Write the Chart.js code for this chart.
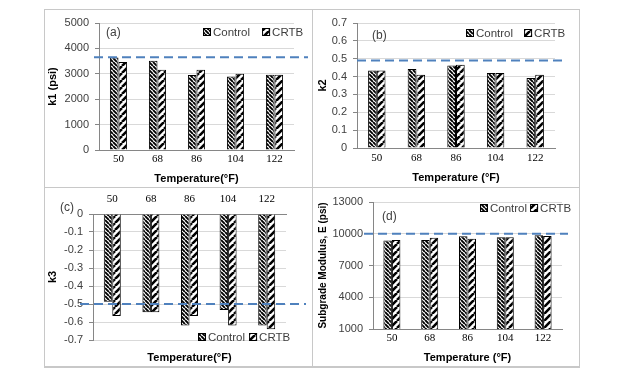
<!DOCTYPE html>
<html>
<head>
<meta charset="utf-8">
<script src="https://cdn.jsdelivr.net/npm/chart.js@4.4.1/dist/chart.umd.min.js"></script>
<style>
  html, body { margin: 0; padding: 0; background: #fff; }
  body { width: 624px; height: 372px; position: relative; overflow: hidden; }
  .line { position: absolute; background: #c8c8c8; }
  canvas { position: absolute; }
</style>
</head>
<body>
<div class="line" style="left:44px;top:9px;width:536px;height:1px"></div>
<div class="line" style="left:44px;top:187px;width:536px;height:1px"></div>
<div class="line" style="left:44px;top:366px;width:536px;height:2px"></div>
<div class="line" style="left:44px;top:9px;width:1px;height:359px"></div>
<div class="line" style="left:312px;top:9px;width:1px;height:359px"></div>
<div class="line" style="left:579px;top:9px;width:1px;height:359px"></div>

<canvas id="chartA" width="266" height="176" style="left:45px;top:10px"></canvas>
<canvas id="chartB" width="265" height="176" style="left:313px;top:10px"></canvas>
<canvas id="chartC" width="266" height="178" style="left:45px;top:188px"></canvas>
<canvas id="chartD" width="265" height="178" style="left:313px;top:188px"></canvas>

<script>
const temps = ['50', '68', '86', '104', '122'];

const k1Control = [3640, 3510, 2950, 2890, 2960];
const k1Crtb = [3460, 3155, 3155, 3000, 2960];
const k1Ref = 3650;

const k2Control = [0.434, 0.442, 0.462, 0.42, 0.392];
const k2Crtb = [0.434, 0.41, 0.466, 0.42, 0.41];
const k2Ref = 0.49;

const k3Control = [-0.487, -0.546, -0.62, -0.533, -0.62];
const k3Crtb = [-0.566, -0.546, -0.566, -0.62, -0.64];
const k3Ref = -0.5;

const eControl = [9370, 9400, 9770, 9680, 9860];
const eCrtb = [9400, 9620, 9530, 9680, 9780];
const eRef = 10000;

const SANS = '"Liberation Sans", Arial, sans-serif';
const SERIF = '"Liberation Serif", "Times New Roman", serif';

// diagonal hatch tiles: 'back' = \\\\ , 'fwd' = ////
function hatch(size, lineW, dir) {
  const c = document.createElement('canvas');
  c.width = c.height = size;
  const g = c.getContext('2d');
  g.fillStyle = '#fff';
  g.fillRect(0, 0, size, size);
  g.strokeStyle = '#000';
  g.lineWidth = lineW;
  g.beginPath();
  for (let k = -1; k <= 1; k++) {
    if (dir === 'back') {
      g.moveTo(k * size, 0); g.lineTo(k * size + size, size);
    } else {
      g.moveTo(k * size, size); g.lineTo(k * size + size, 0);
    }
  }
  g.stroke();
  return g.createPattern(c, 'repeat');
}
const controlFill = hatch(4, 1.9, 'back');
const crtbFill = hatch(7, 2.6, 'fwd');

// reference line, panel letter and in-plot legend
const panelDecor = {
  id: 'panelDecor',
  afterDatasetsDraw(chart, args, opts) {
    const { ctx, chartArea } = chart;
    const py = chart.scales.y.getPixelForValue(opts.ref);
    ctx.save();
    ctx.strokeStyle = '#4f81bd';
    ctx.lineWidth = 2;
    ctx.setLineDash([9, 5]);
    ctx.beginPath();
    ctx.moveTo(chartArea.left + opts.refFrom, py);
    ctx.lineTo(chartArea.right + opts.refTo, py);
    ctx.stroke();
    ctx.restore();
  },
  afterDraw(chart, args, opts) {
    const ctx = chart.ctx;
    ctx.save();
    ctx.textBaseline = 'middle';
    ctx.fillStyle = '#404040';
    ctx.font = '12px ' + SANS;
    ctx.fillText(opts.letter, opts.letterX, opts.letterY);

    ctx.font = '11.5px ' + SANS;
    let x = opts.legendX;
    const y = opts.legendY;
    chart.data.datasets.forEach(ds => {
      ctx.fillStyle = ds.backgroundColor;
      ctx.fillRect(x, y - 4, 8, 8);
      ctx.strokeStyle = '#000';
      ctx.lineWidth = 1;
      ctx.strokeRect(x + 0.5, y - 3.5, 7, 7);
      ctx.fillStyle = '#404040';
      ctx.fillText(ds.label, x + 10, y + 0.5);
      x += 10 + ctx.measureText(ds.label).width + opts.legendGap;
    });
    ctx.restore();
  }
};

function buildChart(id, o) {
  const xTitle = {
    display: true, text: o.xTitle, color: '#000',
    font: { family: SANS, size: 11, weight: 'bold' },
    padding: { top: 0, bottom: o.xTitlePad }
  };
  const scales = {
    y: {
      min: o.min, max: o.max,
      afterFit(s) { s.width = o.yWidth; },
      ticks: {
        stepSize: o.step, padding: 6, color: '#404040',
        font: { family: SANS, size: 11 },
        callback: v => String(Math.round(v * 1000) / 1000)
      },
      grid: { color: '#d9d9d9', tickColor: '#868686', tickLength: 4 },
      border: { color: '#868686' },
      title: {
        display: true, text: o.yTitle, color: '#000',
        font: { family: SANS, size: o.yTitleSize, weight: 'bold' },
        padding: { top: o.yTitlePad, bottom: 0 }
      }
    },
    x: {
      position: o.xTop ? 'top' : 'bottom',
      afterFit(s) { s.height = o.xHeight; },
      grid: { display: false, drawTicks: false },
      border: { color: '#868686' },
      ticks: { padding: o.xTickPad, color: '#000', font: { family: SERIF, size: 11 } },
      title: o.xTop ? { display: false } : xTitle
    }
  };
  if (o.xTop) {
    scales.x2 = {
      type: 'category', position: 'bottom',
      afterFit(s) { s.height = o.x2Height; },
      grid: { display: false, drawTicks: false },
      border: { display: false },
      ticks: { display: false },
      title: xTitle
    };
  }
  return new Chart(document.getElementById(id), {
    type: 'bar',
    data: {
      labels: temps,
      datasets: [
        { label: 'Control', data: o.control, backgroundColor: controlFill, borderColor: '#000', borderWidth: 1 },
        { label: 'CRTB', data: o.crtb, backgroundColor: crtbFill, borderColor: '#000', borderWidth: 1 }
      ]
    },
    options: {
      responsive: false,
      animation: false,
      layout: { padding: { top: o.padTop, right: o.padRight, bottom: 0, left: 0 } },
      datasets: { bar: { categoryPercentage: o.catPct, barPercentage: 1 } },
      plugins: {
        legend: { display: false },
        tooltip: { enabled: false },
        panelDecor: o.decor
      },
      scales: scales
    },
    plugins: [panelDecor]
  });
}

buildChart('chartA', {
  control: k1Control, crtb: k1Crtb,
  min: 0, max: 5000, step: 1000,
  yTitle: 'k1 (psi)', yTitleSize: 11, yTitlePad: 1, yWidth: 54,
  xTitle: 'Temperature(°F)', xTitlePad: 0, xHeight: 36, xTickPad: 3,
  padTop: 13, padRight: 17, catPct: 0.44,
  decor: { ref: k1Ref, refFrom: -5, refTo: 14, letter: '(a)', letterX: 61, letterY: 23,
           legendX: 158, legendY: 22, legendGap: 12 }
});

buildChart('chartB', {
  control: k2Control, crtb: k2Crtb,
  min: 0, max: 0.7, step: 0.1,
  yTitle: 'k2', yTitleSize: 11, yTitlePad: 3, yWidth: 44,
  xTitle: 'Temperature (°F)', xTitlePad: 1, xHeight: 38, xTickPad: 4,
  padTop: 13, padRight: 23, catPct: 0.44,
  decor: { ref: k2Ref, refFrom: 0, refTo: 12, letter: '(b)', letterX: 59, letterY: 26,
           legendX: 153, legendY: 23, legendGap: 11 }
});

buildChart('chartC', {
  control: k3Control, crtb: k3Crtb,
  min: -0.7, max: 0, step: 0.1,
  yTitle: 'k3', yTitleSize: 11, yTitlePad: 1, yWidth: 48,
  xTop: true, xTitle: 'Temperature(°F)', xTitlePad: 1, xHeight: 26, x2Height: 26, xTickPad: 8,
  padTop: 0, padRight: 25, catPct: 0.44,
  decor: { ref: k3Ref, refFrom: -13, refTo: 20, letter: '(c)', letterX: 15, letterY: 20,
           legendX: 153, legendY: 149, legendGap: 4 }
});

buildChart('chartD', {
  control: eControl, crtb: eCrtb,
  min: 1000, max: 13000, step: 3000,
  yTitle: 'Subgrade Modulus, E (psi)', yTitleSize: 10, yTitlePad: 4, yWidth: 60,
  xTitle: 'Temperature (°F)', xTitlePad: 1, xHeight: 37, xTickPad: 3,
  padTop: 14, padRight: 16, catPct: 0.45,
  decor: { ref: eRef, refFrom: -9, refTo: 6, letter: '(d)', letterX: 69, letterY: 29,
           legendX: 167, legendY: 20, legendGap: 3 }
});
</script>
</body>
</html>
